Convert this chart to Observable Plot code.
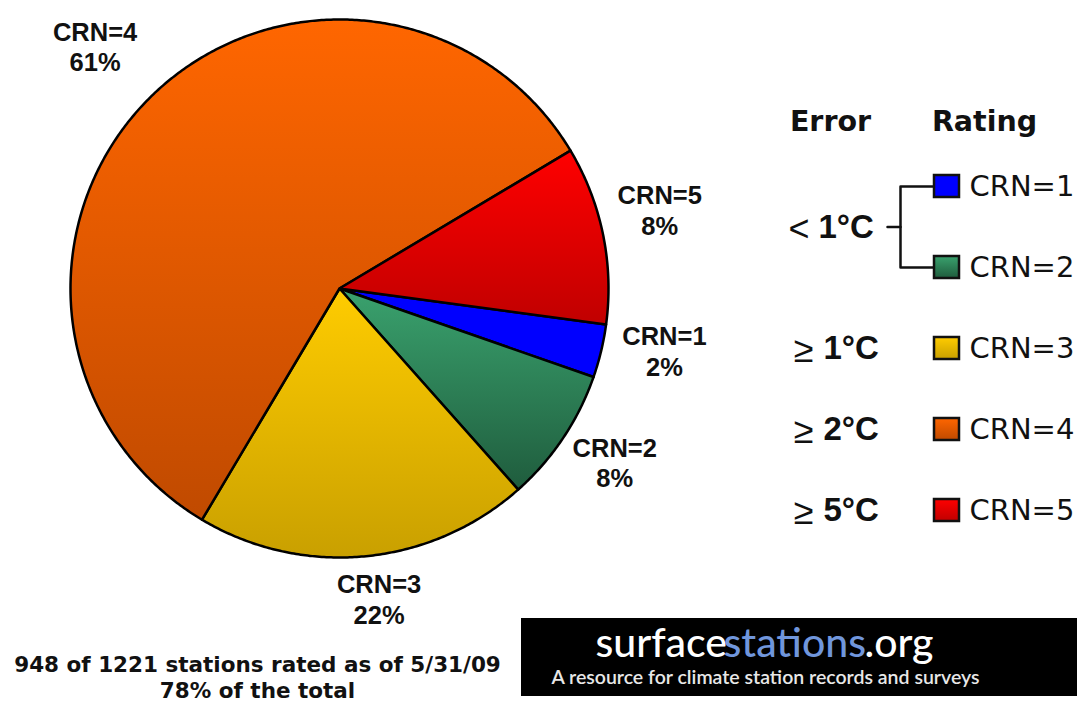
<!DOCTYPE html>
<html><head><meta charset="utf-8">
<script src="https://cdn.jsdelivr.net/npm/d3@7"></script>
<script src="https://cdn.jsdelivr.net/npm/@observablehq/plot@0.6"></script>
<style>body{margin:0;background:#fff;}</style>
</head><body><div id="chart"></div>
<script>
// ---- data ----
const ratings = ["CRN=1", "CRN=2", "CRN=3", "CRN=4", "CRN=5"];
const sliceShares = [3.2, 8.1, 20.1, 57.9, 10.7];        // slice sizes as drawn (%)
const shareLabels = ["2%", "8%", "22%", "61%", "8%"];      // printed percentages
const errorSymbols = ["<", "≥", "≥", "≥"];
const errorValues = ["1°C", "1°C", "2°C", "5°C"];
const errorRows = [0.5, 2, 3, 4];                           // legend row each error label sits on
const topColors = ["#0000ff", "#3aa26e", "#ffcc00", "#ff6600", "#ff0000"];
const bottomColors = ["#0000ff", "#1f5c3d", "#c9a000", "#c04a00", "#c00000"];
const captionLines = ["948 of 1221 stations rated as of 5/31/09", "78% of the total"];
const logoParts = ["surface", "stations", ".org"];
const logoTagline = "A resource for climate station records and surveys";

// ---- layout ----
const W = 1079, H = 702;
const cx = 339, cy = 288, R = 269;
const start = 97.7 * Math.PI / 180;
const labelDist = 1.2 * R;
const labelNudge = [[11, -13], [7, -6], [9, -11], [-16, -14], [4, -14]];
const rowY = i => 186 + 81 * i;

const arcs = d3.pie().sort(null).startAngle(start).endAngle(start + 2 * Math.PI)(sliceShares);
const polar = (a, r) => ({x: cx + r * Math.sin(a), y: cy - r * Math.cos(a)});

const sliceMarks = arcs.map((a, i) => {
  const n = Math.max(2, Math.ceil((a.endAngle - a.startAngle) / (Math.PI / 360)));
  const pts = [{x: cx, y: cy}];
  for (let k = 0; k <= n; k++) pts.push(polar(a.startAngle + (a.endAngle - a.startAngle) * k / n, R));
  return Plot.line(pts, {x: "x", y: "y", curve: "linear-closed", fill: `url(#grad${i})`,
    stroke: "black", strokeWidth: 2.5, strokeLinejoin: "round"});
});

const labels = arcs.map((a, i) => {
  const p = polar((a.startAngle + a.endAngle) / 2, labelDist);
  return {x: p.x + labelNudge[i][0], y: p.y + labelNudge[i][1], text: ratings[i] + "\n" + shareLabels[i]};
});

const legendRows = ratings.map((r, i) => ({r, i, y: rowY(i)}));
const errRows = errorValues.map((v, j) => ({sym: errorSymbols[j], v, y: rowY(0) + 81 * errorRows[j]}));

const bracketTop = rowY(0), bracketBot = rowY(1), bracketMid = (bracketTop + bracketBot) / 2;

const marks = [
  ...sliceMarks,
  Plot.text(labels, {x: "x", y: "y", text: "text", fontSize: 25.5, fontWeight: "bold",
    fontFamily: "Liberation Sans, Arial, sans-serif", lineHeight: 1.2, fill: "#111"}),
  // legend headers
  Plot.text([{t: "Error", x: 830}, {t: "Rating", x: 984}], {x: "x", y: () => 121, text: "t",
    fontSize: 28.5, fontWeight: "bold", fontFamily: "DejaVu Sans, sans-serif", fill: "#111"}),
  // bracket
  Plot.line([{x: 887, y: bracketMid}, {x: 900, y: bracketMid}], {x: "x", y: "y", stroke: "#111", strokeWidth: 2.5}),
  Plot.line([{x: 933, y: bracketTop}, {x: 900, y: bracketTop}, {x: 900, y: bracketBot}, {x: 933, y: bracketBot}],
    {x: "x", y: "y", stroke: "#111", strokeWidth: 2.5}),
  // legend swatches
  ...legendRows.map(d => Plot.rect([d], {x1: () => 934, x2: () => 959, y1: e => e.y - 11, y2: e => e.y + 11,
    fill: `url(#grad${d.i})`, stroke: "#111", strokeWidth: 2.5})),
  Plot.text(legendRows, {x: () => 969, y: "y", text: "r", textAnchor: "start", fontSize: 29,
    fontFamily: "DejaVu Sans, sans-serif", fill: "#111"}),
  // error labels
  Plot.text(errRows, {x: (d, j) => j === 0 ? 809 : 813, y: d => d.y + 2, text: "sym", textAnchor: "end", fontSize: 36,
    fontFamily: "Liberation Sans, Arial, sans-serif", fill: "#111"}),
  Plot.text(errRows, {x: (d, j) => j === 0 ? 818 : 823, y: "y", text: "v", textAnchor: "start", fontSize: 33, fontWeight: "bold",
    fontFamily: "Liberation Sans, Arial, sans-serif", fill: "#111"}),
  // caption
  Plot.text(captionLines, {x: () => 257, y: (d, i) => 665 + 26 * i, text: d => d, fontSize: 21.5,
    fontWeight: "bold", fontFamily: "DejaVu Sans, sans-serif", fill: "#111"}),
  // logo
  Plot.rect([0], {x1: () => 521, x2: () => 1077, y1: () => 618, y2: () => 696, fill: "black"}),
  Plot.text(logoParts, {x: (d, i) => [595, 723, 864][i], y: () => 643, text: d => d, textAnchor: "start",
    fontSize: 41, fontFamily: "Lato, Open Sans, sans-serif", fontWeight: 500, fill: (d, i) => i === 1 ? "#7096dc" : "white"}),
  Plot.text([logoTagline], {x: () => 765, y: () => 677, text: d => d, fontSize: 19.5,
    fontFamily: "Lato, Open Sans, sans-serif", fill: "#e8e8e8", fontWeight: 600})
];

const chart = Plot.plot({
  width: W, height: H, margin: 0,
  x: {domain: [0, W], range: [0, W], axis: null},
  y: {domain: [0, H], range: [0, H], axis: null},
  color: {type: "identity"},
  style: {background: "white", overflow: "visible"},
  marks
});

const defs = d3.select(chart).insert("defs", ":first-child");
topColors.forEach((c, i) => {
  const g = defs.append("linearGradient").attr("id", `grad${i}`)
    .attr("x1", 0).attr("y1", 0).attr("x2", 0).attr("y2", 1);
  g.append("stop").attr("offset", "0%").attr("stop-color", c);
  g.append("stop").attr("offset", "100%").attr("stop-color", bottomColors[i]);
});

document.getElementById("chart").appendChild(chart);
</script>
</body></html>
